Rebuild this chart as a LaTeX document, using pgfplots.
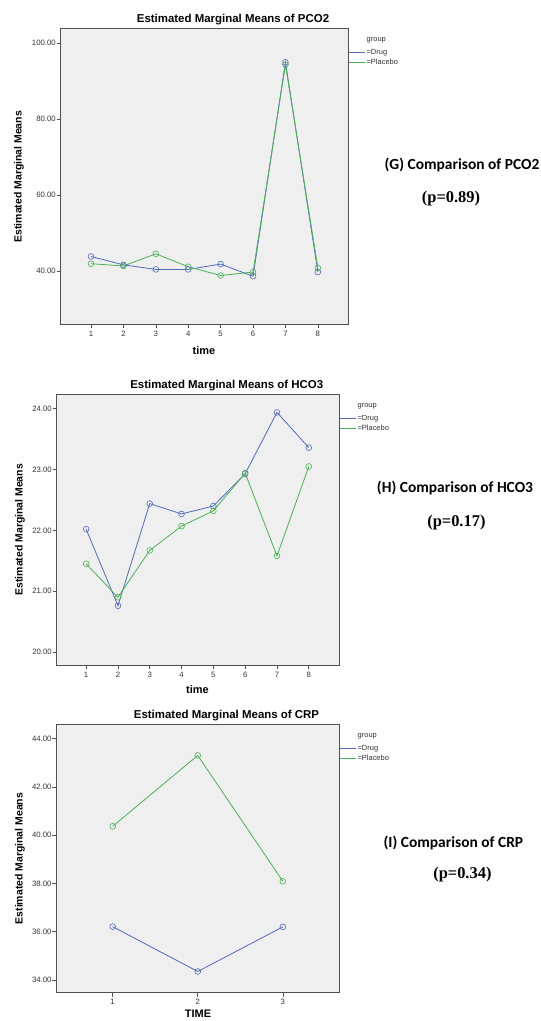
\documentclass[border=0pt]{standalone}
\usepackage{fontspec}
\setmainfont{Liberation Sans}
\newfontfamily\carlito{Carlito}
\newfontfamily\tnr{Liberation Serif}
\usepackage{pgfplots}
\pgfplotsset{compat=1.18}
\definecolor{drugc}{RGB}{80,106,192}
\definecolor{placc}{RGB}{72,178,84}
\definecolor{bgc}{RGB}{239,239,239}
\definecolor{framec}{RGB}{80,80,80}
\definecolor{txtc}{RGB}{50,50,50}
\pgfplotsset{
  spss/.style={
    scale only axis,
    axis background/.style={fill=bgc},
    axis line style={draw=framec, line width=1bp},
    every tick/.style={draw=framec, line width=0.6bp},
    tick align=outside,
    major tick length=4bp,
    xtick pos=bottom, ytick pos=left,
    xtick=data,
    /pgf/number format/assume math mode=true,
    y tick label style={font=\fontsize{7.8}{9}\selectfont, text=txtc, inner sep=0.8bp,
      /pgf/number format/.cd, fixed, fixed zerofill, precision=2},
    x tick label style={font=\fontsize{7.8}{9}\selectfont, text=txtc, inner sep=2.5bp},
    legend style={at={(rel axis cs:1,1)}, anchor=north west, draw=none, fill=none,
      font=\fontsize{7.5}{8.5}\selectfont, inner xsep=0pt, inner ysep=0pt,
      yshift=-20bp, row sep=1.1bp, nodes={inner sep=1bp, text=txtc}},
    legend cell align=left,
    legend image code/.code={\draw[#1, line width=0.9bp] (0bp,0bp) -- (16.5bp,0bp);},
    every axis plot/.append style={line width=0.8bp, mark=o, mark size=2.9bp,
      mark options={line width=0.6bp}},
  }
}
\newcommand{\grp}{\node[anchor=west, font=\fontsize{7.5}{8.5}\selectfont, text=txtc, inner sep=1bp]
  at (rel axis cs:1,1) [xshift=17.5bp, yshift=-11.7bp] {group};}
\begin{document}
\begin{tikzpicture}
\path[use as bounding box] (0,0) rectangle (541bp,-1021bp);

% ---------- (G) PCO2 ----------
\begin{axis}[spss, at={(60.7bp,-324bp)}, anchor=south west,
  width=287.3bp, height=295.7bp,
  xmin=0.065, xmax=8.93, ymin=26.13, ymax=103.95,
  ytick={40,60,80,100}, clip=false]
\addplot[color=drugc] coordinates {(1,43.9)(2,41.7)(3,40.5)(4,40.5)(5,41.9)(6,38.7)(7,95.0)(8,39.8)};
\addlegendentry{=Drug}
\addplot[color=placc] coordinates {(1,42.0)(2,41.4)(3,44.6)(4,41.2)(5,38.9)(6,39.8)(7,94.4)(8,40.9)};
\addlegendentry{=Placebo}
\grp
\end{axis}
\node[font=\fontsize{11.5}{13}\selectfont\bfseries] at (233bp,-19.3bp) {Estimated Marginal Means of PCO2};
\node[font=\fontsize{10.5}{12}\selectfont\bfseries, rotate=90] at (19bp,-176.7bp) {Estimated Marginal Means};
\node[font=\fontsize{11}{12}\selectfont\bfseries] at (204bp,-351bp) {time};
\node[font=\carlito\fontsize{15.5}{17}\selectfont\bfseries] at (462bp,-165bp) {(G) Comparison of PCO2};
\node[font=\tnr\fontsize{16.5}{18}\selectfont\bfseries] at (451bp,-199bp) {(p=0.89)};

% ---------- (H) HCO3 ----------
\begin{axis}[spss, at={(56.7bp,-665bp)}, anchor=south west,
  width=282.3bp, height=270.7bp,
  xmin=0.075, xmax=8.95, ymin=19.786, ymax=24.237,
  ytick={20,21,22,23,24}, clip=false]
\addplot[color=drugc] coordinates {(1,22.02)(2,20.76)(3,22.44)(4,22.27)(5,22.40)(6,22.93)(7,23.94)(8,23.36)};
\addlegendentry{=Drug}
\addplot[color=placc] coordinates {(1,21.45)(2,20.90)(3,21.67)(4,22.07)(5,22.32)(6,22.94)(7,21.58)(8,23.05)};
\addlegendentry{=Placebo}
\grp
\end{axis}
\node[font=\fontsize{11.5}{13}\selectfont\bfseries] at (226.7bp,-386bp) {Estimated Marginal Means of HCO3};
\node[font=\fontsize{10.5}{12}\selectfont\bfseries, rotate=90] at (20bp,-529.7bp) {Estimated Marginal Means};
\node[font=\fontsize{11}{12}\selectfont\bfseries] at (197.5bp,-690bp) {time};
\node[font=\carlito\fontsize{15.5}{17}\selectfont\bfseries] at (455bp,-487.7bp) {(H) Comparison of HCO3};
\node[font=\tnr\fontsize{16.5}{18}\selectfont\bfseries] at (456.4bp,-522.3bp) {(p=0.17)};

% ---------- (I) CRP ----------
\begin{axis}[spss, at={(56.5bp,-992.7bp)}, anchor=south west,
  width=282.5bp, height=268.4bp,
  xmin=0.34, xmax=3.66, ymin=33.47, ymax=44.6,
  ytick={34,36,38,40,42,44}, clip=false]
\addplot[color=drugc] coordinates {(1,36.21)(2,34.35)(3,36.20)};
\addlegendentry{=Drug}
\addplot[color=placc] coordinates {(1,40.37)(2,43.31)(3,38.09)};
\addlegendentry{=Placebo}
\grp
\end{axis}
\node[font=\fontsize{11.5}{13}\selectfont\bfseries] at (226.5bp,-716bp) {Estimated Marginal Means of CRP};
\node[font=\fontsize{10.5}{12}\selectfont\bfseries, rotate=90] at (20bp,-858.5bp) {Estimated Marginal Means};
\node[font=\fontsize{11}{12}\selectfont\bfseries] at (198bp,-1014bp) {TIME};
\node[font=\carlito\fontsize{15.5}{17}\selectfont\bfseries] at (453.4bp,-842.7bp) {(I) Comparison of CRP};
\node[font=\tnr\fontsize{16.5}{18}\selectfont\bfseries] at (462.4bp,-874.3bp) {(p=0.34)};
\end{tikzpicture}
\end{document}
